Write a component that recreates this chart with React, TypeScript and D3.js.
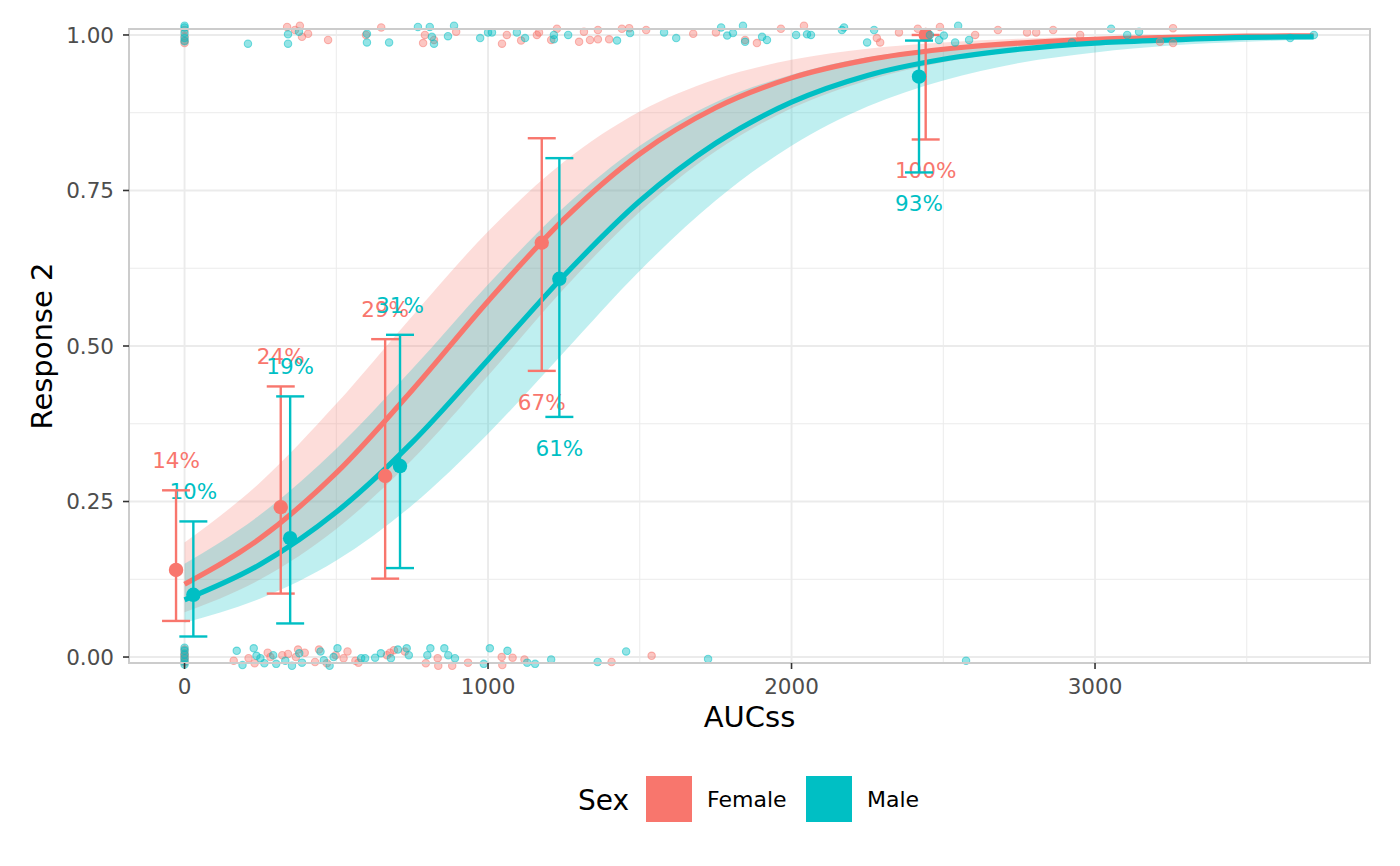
import * as d3 from "d3";

// fitted logistic curve with 95% band
const curveAuc = [0, 250, 500, 750, 1000, 1250, 1500, 1750, 2000, 2250, 2500, 2750, 3000, 3250, 3500, 3720];
const femaleFit = [0.117, 0.191, 0.296, 0.429, 0.572, 0.704, 0.809, 0.883, 0.931, 0.96, 0.977, 0.987, 0.993, 0.996, 0.998, 0.9986];
const femaleLow = [0.072, 0.125, 0.206, 0.317, 0.452, 0.592, 0.716, 0.813, 0.882, 0.927, 0.956, 0.974, 0.984, 0.991, 0.994, 0.996];
const femaleHigh = [0.184, 0.281, 0.407, 0.548, 0.684, 0.796, 0.877, 0.929, 0.96, 0.978, 0.988, 0.994, 0.997, 0.998, 0.999, 0.9995];
const maleFit = [0.092, 0.149, 0.233, 0.345, 0.478, 0.613, 0.733, 0.826, 0.892, 0.935, 0.961, 0.977, 0.987, 0.992, 0.996, 0.997];
const maleLow = [0.055, 0.094, 0.155, 0.244, 0.359, 0.49, 0.621, 0.734, 0.822, 0.885, 0.927, 0.955, 0.972, 0.983, 0.989, 0.993];
const maleHigh = [0.15, 0.229, 0.335, 0.463, 0.599, 0.723, 0.822, 0.892, 0.936, 0.964, 0.98, 0.989, 0.994, 0.997, 0.998, 0.999];

// binned observed proportions
const femaleBinAuc = [-28, 317, 661, 1177, 2442];
const femaleBinProp = [0.14, 0.241, 0.291, 0.666, 1.0];
const femaleBinLow = [0.058, 0.102, 0.126, 0.46, 0.832];
const femaleBinHigh = [0.268, 0.435, 0.511, 0.834, 1.0];
const femaleBinLabel = ["14%", "24%", "29%", "67%", "100%"];

const maleBinAuc = [29, 348, 710, 1235, 2420];
const maleBinProp = [0.1, 0.191, 0.307, 0.608, 0.933];
const maleBinLow = [0.033, 0.054, 0.143, 0.386, 0.779];
const maleBinHigh = [0.218, 0.419, 0.518, 0.802, 0.991];
const maleBinLabel = ["10%", "19%", "31%", "61%", "93%"];

// raw observations [AUCss, jittered response]
const femaleResponders: [number, number][] = [
  [0, 1.008], [0, 0.998], [0, 0.991], [0, 0.987],
  [338, 1.013], [364, 1.008], [380, 1.015], [387, 0.997], [407, 1.002], [473, 0.992],
  [598, 1.0], [648, 1.012], [786, 0.987], [792, 1.0], [822, 0.992], [895, 1.005],
  [1046, 0.986], [1062, 1.0], [1109, 0.991], [1161, 1.0], [1168, 1.004], [1208, 0.992],
  [1227, 1.01], [1300, 0.989], [1316, 1.005], [1336, 0.992], [1362, 1.008], [1362, 0.993],
  [1399, 0.993], [1441, 1.01], [1465, 1.011], [1521, 1.008], [1676, 1.002], [1751, 1.004],
  [1847, 0.992], [1886, 0.987], [1965, 1.01], [2041, 1.015], [2281, 0.995], [2292, 0.988],
  [2354, 1.004], [2416, 1.01], [2489, 1.013], [2605, 1.0], [2680, 1.008], [2776, 1.004],
  [2806, 1.004], [2862, 1.008], [2951, 1.0], [3214, 0.989], [3257, 1.011], [3257, 0.987],
];
const maleResponders: [number, number][] = [
  [0, 1.015], [0, 1.012], [0, 1.003], [0, 0.995], [0, 0.99],
  [209, 0.986], [341, 1.001], [341, 0.986], [377, 1.005], [601, 1.002], [601, 0.988],
  [674, 0.988], [769, 1.013], [808, 1.013], [815, 0.997], [822, 0.986], [868, 0.998],
  [888, 1.015], [974, 0.995], [1000, 1.004], [1013, 1.004], [1095, 1.004], [1122, 0.995],
  [1217, 1.0], [1217, 0.993], [1264, 1.0], [1425, 0.991], [1468, 1.003], [1580, 1.004],
  [1620, 0.995], [1768, 1.012], [1788, 0.999], [1807, 1.003], [1840, 1.015], [1847, 0.989],
  [1903, 0.997], [1919, 0.992], [2015, 1.0], [2051, 1.001], [2064, 1.0], [2166, 1.008],
  [2173, 1.012], [2249, 0.988], [2272, 1.008], [2456, 1.0], [2486, 0.992], [2502, 0.999],
  [2539, 0.988], [2549, 1.015], [2585, 0.992], [2924, 0.988], [3053, 1.01], [3106, 1.0],
  [3145, 1.005], [3643, 0.995], [3721, 1.0],
];
const femaleNonResponders: [number, number][] = [
  [0, 0.012], [0, 0.006], [0, 0.0], [0, -0.004], [0, -0.009], [0, 0.003],
  [162, -0.006], [211, -0.002], [231, -0.01], [274, 0.007], [283, 0.0], [322, 0.003],
  [341, 0.005], [367, 0.0], [374, 0.012], [396, 0.007], [430, -0.008], [443, 0.012],
  [469, -0.01], [498, 0.003], [524, -0.002], [537, 0.009], [563, -0.006], [573, -0.009],
  [667, 0.003], [677, 0.007], [690, 0.011], [726, 0.009], [795, -0.01], [834, -0.002],
  [836, -0.014], [882, -0.014], [934, -0.009], [1045, 0.0], [1047, -0.013], [1081, -0.001],
  [1120, -0.004], [1407, -0.008], [1539, 0.002],
];
const maleNonResponders: [number, number][] = [
  [0, 0.015], [0, 0.01], [0, 0.004], [0, -0.002], [0, -0.007], [0, -0.012],
  [172, 0.01], [191, -0.013], [228, 0.014], [237, 0.002], [250, -0.002], [263, -0.01],
  [292, 0.003], [302, -0.011], [332, -0.006], [354, -0.014], [378, 0.006], [387, -0.009],
  [448, 0.009], [459, -0.005], [478, -0.014], [491, 0.0], [504, 0.014], [582, -0.002],
  [595, -0.002], [628, -0.001], [647, 0.006], [680, -0.002], [703, 0.012], [732, 0.014],
  [739, 0.003], [800, 0.003], [810, 0.014], [856, 0.014], [869, 0.003], [891, -0.002],
  [986, -0.011], [1006, 0.014], [1064, 0.01], [1129, -0.009], [1155, -0.011], [1208, -0.004],
  [1361, -0.008], [1455, 0.009], [1725, -0.003], [2575, -0.006],
];

const xMajor = [0, 1000, 2000, 3000];
const xMinor = [500, 1500, 2500, 3500];
const yMajor = [0, 0.25, 0.5, 0.75, 1];
const yMinor = [0.125, 0.375, 0.625, 0.875];

const sexes = ["Female", "Male"];
const colors = ["#F8766D", "#00BFC4"];

const W = 1400;
const H = 866;
const FONT = "'DejaVu Sans', sans-serif";

export default function App() {
  const left = 129, right = 1370, top = 29, bottom = 663;
  const x = d3.scaleLinear().domain([-183, 3906]).range([left, right]);
  const y = d3.scaleLinear().domain([-0.0096, 1.0096]).range([bottom, top]);

  const groups = [
    { fit: femaleFit, low: femaleLow, high: femaleHigh, binAuc: femaleBinAuc, binProp: femaleBinProp, binLow: femaleBinLow, binHigh: femaleBinHigh, label: femaleBinLabel, obs: [...femaleResponders, ...femaleNonResponders] },
    { fit: maleFit, low: maleLow, high: maleHigh, binAuc: maleBinAuc, binProp: maleBinProp, binLow: maleBinLow, binHigh: maleBinHigh, label: maleBinLabel, obs: [...maleResponders, ...maleNonResponders] },
  ];

  const area = d3
    .area<number>()
    .x((d) => x(curveAuc[d]))
    .curve(d3.curveMonotoneX);
  const line = d3
    .line<number>()
    .x((d) => x(curveAuc[d]))
    .curve(d3.curveMonotoneX);
  const idx = curveAuc.map((_, i) => i);
  const cap = 14;

  return (
    <svg width={W} height={H} style={{ position: "absolute", left: 0, top: 0, background: "#fff" }} fontFamily={FONT}>
      <rect x={0} y={0} width={W} height={H} fill="#fff" />
      {/* grid */}
      {xMinor.map((v) => (
        <line key={"xm" + v} x1={x(v)} x2={x(v)} y1={top} y2={bottom} stroke="#ebebeb" strokeWidth={1} />
      ))}
      {yMinor.map((v) => (
        <line key={"ym" + v} x1={left} x2={right} y1={y(v)} y2={y(v)} stroke="#ebebeb" strokeWidth={1} />
      ))}
      {xMajor.map((v) => (
        <line key={"xM" + v} x1={x(v)} x2={x(v)} y1={top} y2={bottom} stroke="#ebebeb" strokeWidth={1.9} />
      ))}
      {yMajor.map((v) => (
        <line key={"yM" + v} x1={left} x2={right} y1={y(v)} y2={y(v)} stroke="#ebebeb" strokeWidth={1.9} />
      ))}

      {/* confidence ribbons */}
      {groups.map((g, k) => (
        <path
          key={"rib" + k}
          d={area.y0((i) => y(g.low[i])).y1((i) => y(g.high[i]))(idx) ?? ""}
          fill={colors[k]}
          fillOpacity={0.25}
        />
      ))}
      {/* fitted curves */}
      {groups.map((g, k) => (
        <path key={"fit" + k} d={line.y((i) => y(g.fit[i]))(idx) ?? ""} fill="none" stroke={colors[k]} strokeWidth={5.2} />
      ))}

      {/* percentage labels */}
      {groups.map((g, k) =>
        g.label.map((t, i) => {
          const ly = g.binProp[i] < 0.5 ? g.binHigh[i] + 0.048 : g.binLow[i] - 0.05;
          return (
            <text key={"lab" + k + i} x={x(g.binAuc[i])} y={y(ly)} dy="0.36em" textAnchor="middle" fontSize={21.5} fill={colors[k]}>
              {t}
            </text>
          );
        })
      )}

      {/* error bars and binned means */}
      {groups.map((g, k) =>
        g.binAuc.map((a, i) => {
          const cx = x(a);
          return (
            <g key={"eb" + k + i} stroke={colors[k]} strokeWidth={2.4}>
              <line x1={cx} x2={cx} y1={y(g.binLow[i])} y2={y(g.binHigh[i])} />
              <line x1={cx - cap} x2={cx + cap} y1={y(g.binLow[i])} y2={y(g.binLow[i])} />
              <line x1={cx - cap} x2={cx + cap} y1={y(g.binHigh[i])} y2={y(g.binHigh[i])} />
              <circle cx={cx} cy={y(g.binProp[i])} r={7.2} fill={colors[k]} stroke="none" />
            </g>
          );
        })
      )}

      {/* observations */}
      {groups.map((g, k) =>
        g.obs.map((d, i) => (
          <circle
            key={"pt" + k + i}
            cx={x(d[0])}
            cy={y(d[1])}
            r={3.7}
            fill={colors[k]}
            fillOpacity={0.42}
            stroke={colors[k]}
            strokeOpacity={0.5}
            strokeWidth={1.1}
          />
        ))
      )}

      {/* panel border */}
      <rect x={left} y={top} width={right - left} height={bottom - top} fill="none" stroke="#cccccc" strokeWidth={2} />

      {/* axes */}
      {yMajor.map((v) => (
        <g key={"yt" + v}>
          <line x1={left - 6} x2={left} y1={y(v)} y2={y(v)} stroke="#333333" strokeWidth={1.6} />
          <text x={left - 15} y={y(v)} dy="0.36em" textAnchor="end" fontSize={21.5} fill="#4d4d4d">
            {d3.format(".2f")(v)}
          </text>
        </g>
      ))}
      {xMajor.map((v) => (
        <g key={"xt" + v}>
          <line x1={x(v)} x2={x(v)} y1={bottom} y2={bottom + 6} stroke="#333333" strokeWidth={1.6} />
          <text x={x(v)} y={694} textAnchor="middle" fontSize={21.5} fill="#4d4d4d">
            {v}
          </text>
        </g>
      ))}
      <text x={(left + right) / 2} y={727} textAnchor="middle" fontSize={29} fill="#000">
        AUCss
      </text>
      <text transform={`translate(52,${(top + bottom) / 2}) rotate(-90)`} textAnchor="middle" fontSize={29} fill="#000">
        Response 2
      </text>

      {/* legend */}
      <text x={578} y={810} fontSize={28} fill="#000">
        Sex
      </text>
      {sexes.map((s, k) => (
        <g key={"lg" + s}>
          <rect x={646 + k * 160} y={776} width={46} height={46} fill={colors[k]} />
          <text x={707 + k * 160} y={807} fontSize={22} fill="#000">
            {s}
          </text>
        </g>
      ))}
    </svg>
  );
}
